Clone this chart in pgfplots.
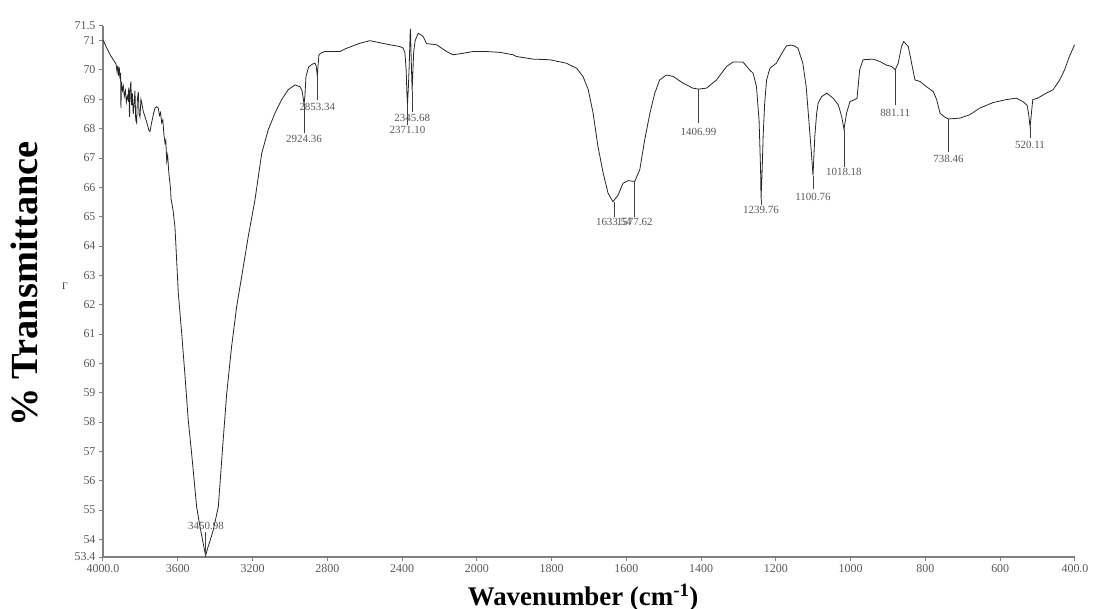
\documentclass[border=0pt]{standalone}
\usepackage{fontspec}
\setmainfont{Liberation Serif}
\usepackage{pgfplots}
\pgfplotsset{compat=1.18}
\definecolor{axgray}{gray}{0.5}
\definecolor{txtgray}{gray}{0.35}
\definecolor{curve}{gray}{0.15}
\tikzset{peak/.style={font=\fontsize{11}{13}\selectfont, text=txtgray, inner sep=0pt}}

\pgfplotstableread{
wn T
4000 71.03
3980 70.75
3960 70.5
3940 70.3
3930 70.2
3925 69.95
3921 70.15
3917 69.8
3913 70.1
3909 69.7
3906 69.9
3904 68.7
3901 69.6
3896 69.3
3891 69.45
3886 69.1
3880 69.3
3875 68.9
3870 69.1
3866 69.0
3862 69.4
3858 68.4
3855 69.3
3851 69.6
3847 68.8
3843 69.2
3838 68.5
3833 68.9
3829 69.3
3825 68.3
3820 68.2
3816 69.0
3811 69.25
3807 68.5
3802 68.4
3797 69.0
3793 68.9
3785 68.6
3775 68.4
3765 68.2
3755 67.95
3749 67.9
3740 68.2
3730 68.5
3722 68.7
3712 68.75
3704 68.7
3698 68.45
3692 68.55
3686 68.2
3680 68.3
3674 67.8
3668 67.5
3664 67.6
3659 66.9
3654 67.1
3648 66.5
3642 66.15
3638 65.9
3636 65.6
3630 65.4
3625 65.2
3615 64.66
3597 62.39
3579 61.03
3561 59.55
3544 58.07
3526 56.94
3499 55.11
3481 54.43
3465 53.9
3451 53.45
3440 53.7
3425 54.0
3410 54.32
3383 55.11
3357 57.39
3338 58.98
3312 60.57
3285 61.93
3258 62.96
3223 64.32
3187 65.57
3151 67.16
3116 67.96
3080 68.53
3044 68.99
3009 69.33
2973 69.49
2946 69.43
2935 69.3
2928 69.0
2924 68.85
2920 69.1
2914 69.78
2900 70.1
2880 70.2
2866 70.23
2860 70.15
2856 69.95
2853 69.8
2850 70.1
2845 70.5
2836 70.57
2813 70.63
2770 70.63
2733 70.63
2697 70.74
2626 70.91
2572 71.0
2519 70.93
2465 70.86
2412 70.80
2395 70.75
2385 70.6
2378 70.0
2374 69.2
2371 68.85
2367 69.3
2362 70.1
2357 71.2
2355 71.4
2352 70.6
2348 69.7
2346 69.3
2343 69.8
2338 70.6
2330 71.0
2314 71.25
2300 71.2
2287 71.14
2269 70.9
2215 70.86
2162 70.63
2127 70.52
2082 70.56
2020 70.63
1974 70.63
1938 70.6
1903 70.52
1894 70.46
1849 70.37
1805 70.35
1760 70.23
1733 70.06
1716 69.78
1702 69.33
1689 68.53
1676 67.39
1662 66.48
1649 65.8
1636 65.51
1622 65.74
1609 66.14
1595 66.23
1577.6 66.2
1564 66.61
1551 67.62
1537 68.53
1524 69.21
1511 69.66
1493 69.83
1475 69.78
1448 69.55
1422 69.38
1407 69.35
1386 69.38
1359 69.66
1332 70.12
1315 70.27
1288 70.27
1270 70.0
1261 69.89
1252 69.43
1245 68.27
1241 66.6
1239.8 65.6
1237 66.5
1234 67.8
1230 68.87
1225 69.66
1216 70.06
1199 70.23
1185 70.55
1172 70.82
1160 70.85
1150 70.82
1141 70.74
1128 70.23
1119 69.43
1112 68.3
1105 67.16
1100.8 66.4
1096 67.73
1091 68.53
1087 68.87
1078 69.09
1064 69.21
1047 69.04
1033 68.81
1024 68.41
1018 67.98
1011 68.53
1002 68.92
989 68.99
983 69.04
976 70.0
967 70.35
940 70.37
922 70.29
905 70.17
891 70.12
884 70.05
881 70.0
873 70.23
864 70.8
858 70.97
846 70.8
837 70.23
828 69.66
815 69.61
797 69.43
779 69.26
770 68.99
761 68.53
748 68.39
738 68.33
708 68.36
682 68.47
655 68.70
619 68.89
584 68.99
557 69.04
539 68.92
528 68.8
524 68.5
520 68.05
516 68.6
513 68.99
500 69.04
477 69.21
459 69.32
441 69.66
428 70.0
415 70.46
401 70.86
}\spectrum

\begin{document}
\begin{tikzpicture}
\begin{axis}[
  scale only axis, width=972bp, height=531bp,
  x coord trafo/.code={\pgfmathparse{#1>=2000 ? 8+(#1-2000)/400 : (#1-400)/200}},
  x coord inv trafo/.code={\pgfmathparse{#1>=8 ? 2000+(#1-8)*400 : 400+#1*200}},
  x dir=reverse,
  xmin=400, xmax=4000, ymin=53.4, ymax=71.5,
  axis lines*=left,
  axis line style={-, axgray, line width=1.3bp},
  tick align=outside, major tick length=4bp,
  tick style={axgray, line width=1bp},
  xtick={4000,3600,3200,2800,2400,2000,1800,1600,1400,1200,1000,800,600,400},
  xticklabels={4000.0,3600,3200,2800,2400,2000,1800,1600,1400,1200,1000,800,600,400.0},
  ytick={53.4,54,55,56,57,58,59,60,61,62,63,64,65,66,67,68,69,70,71,71.5},
  yticklabels={53.4,54,55,56,57,58,59,60,61,62,63,64,65,66,67,68,69,70,71,71.5},
  ticklabel style={font=\fontsize{12}{14}\selectfont, text=txtgray},
  clip=false,
]
\addplot[curve, line width=0.8bp] table[x=wn, y=T] {\spectrum};

\addplot[black!75, line width=0.6bp] coordinates {(3450.98,53.45) (3450.98,54.25)};
\addplot[black!75, line width=0.6bp] coordinates {(2924.36,68.85) (2924.36,67.85)};
\addplot[black!75, line width=0.6bp] coordinates {(2853.34,69.8) (2853.34,68.98)};
\addplot[black!75, line width=0.6bp] coordinates {(2371.10,68.85) (2371.10,68.13)};
\addplot[black!75, line width=0.6bp] coordinates {(2345.68,69.3) (2345.68,68.58)};
\addplot[black!75, line width=0.6bp] coordinates {(1633.54,65.51) (1633.54,65.0)};
\addplot[black!75, line width=0.6bp] coordinates {(1577.62,66.2) (1577.62,65.0)};
\addplot[black!75, line width=0.6bp] coordinates {(1406.99,69.35) (1406.99,68.19)};
\addplot[black!75, line width=0.6bp] coordinates {(1239.76,65.6) (1239.76,65.4)};
\addplot[black!75, line width=0.6bp] coordinates {(1100.76,66.4) (1100.76,65.95)};
\addplot[black!75, line width=0.6bp] coordinates {(1018.18,67.98) (1018.18,66.71)};
\addplot[black!75, line width=0.6bp] coordinates {(881.11,70.0) (881.11,68.81)};
\addplot[black!75, line width=0.6bp] coordinates {(738.46,68.33) (738.46,67.22)};
\addplot[black!75, line width=0.6bp] coordinates {(520.11,68.05) (520.11,67.69)};

\node[peak] at (axis cs:3449,54.46) {3450.98};
\node[peak] at (axis cs:2924.36,67.64) {2924.36};
\node[peak] at (axis cs:2853.34,68.73) {2853.34};
\node[peak] at (axis cs:2371.10,67.96) {2371.10};
\node[peak] at (axis cs:2345.68,68.36) {2345.68};
\node[peak] at (axis cs:1633.54,64.83) {1633.54};
\node[peak] at (axis cs:1577.62,64.83) {1577.62};
\node[peak] at (axis cs:1406.99,67.9) {1406.99};
\node[peak] at (axis cs:1239.76,65.23) {1239.76};
\node[peak] at (axis cs:1100.76,65.68) {1100.76};
\node[peak] at (axis cs:1018.18,66.54) {1018.18};
\node[peak] at (axis cs:881.11,68.53) {881.11};
\node[peak] at (axis cs:738.46,66.97) {738.46};
\node[peak] at (axis cs:520.11,67.45) {520.11};

\node[rotate=90, font=\bfseries\fontsize{38.5}{46}\selectfont, inner sep=0pt]
  at ([xshift=-79bp]axis description cs:0,0.514) {\% Transmittance};
\node[font=\fontsize{10}{11}\selectfont, inner sep=0pt, text=black!80]
  at ([xshift=-38bp]axis description cs:0,0.51) {Γ};
\node[anchor=base, font=\bfseries\fontsize{27}{32}\selectfont, inner sep=0pt]
  at ([yshift=-48bp]axis description cs:0.494,0) {Wavenumber (cm\textsuperscript{-1})};

\coordinate (LL) at (axis description cs:0,0);
\coordinate (UR) at (axis description cs:1,1);
\end{axis}
\pgfresetboundingbox
\path ([shift={(-103bp,-52bp)}]LL) rectangle ([shift={(19bp,26bp)}]UR);
\end{tikzpicture}
\end{document}
